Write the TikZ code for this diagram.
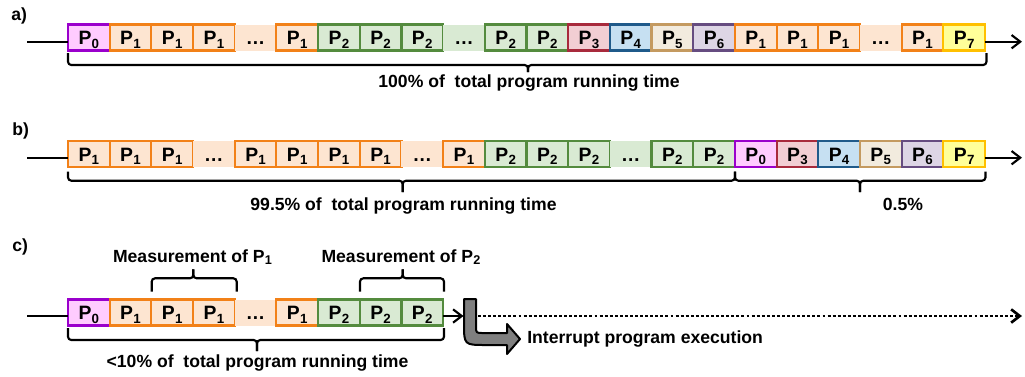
\documentclass[tikz,border=0pt]{standalone}
\usepackage{fontspec}
\setmainfont{Liberation Sans}
\usetikzlibrary{arrows.meta}

% phase colours: border (d) and fill (f)
\definecolor{p0d}{HTML}{9A00CC}\definecolor{p0f}{HTML}{FFCCFF}
\definecolor{p1d}{HTML}{F28118}\definecolor{p1f}{HTML}{FDE5D1}
\definecolor{p2d}{HTML}{548B3E}\definecolor{p2f}{HTML}{D9EAD3}
\definecolor{p3d}{HTML}{A82A3C}\definecolor{p3f}{HTML}{F2CED3}
\definecolor{p4d}{HTML}{1F5A8A}\definecolor{p4f}{HTML}{C6E0F2}
\definecolor{p5d}{HTML}{C49A60}\definecolor{p5f}{HTML}{F2EBDE}
\definecolor{p6d}{HTML}{664C80}\definecolor{p6f}{HTML}{DDD5E5}
\definecolor{p7d}{HTML}{FFC000}\definecolor{p7f}{HTML}{FFFF99}
\definecolor{interruptgray}{HTML}{7F7F7F}

\newcommand\lblfont{\fontsize{14.5}{16}\selectfont\bfseries}
\newcommand\txtfont{\fontsize{13.2}{15}\selectfont\bfseries}
\newcommand\Psub[1]{P\kern0.2pt\raisebox{-2.3pt}{\fontsize{10}{10}\selectfont #1}}
\newcommand\Ptxt[1]{P\kern0.2pt\raisebox{-2pt}{\fontsize{9.5}{10}\selectfont #1}}
\newcommand\colx[1]{68+41.68*(#1+0.5)}

\begin{document}
\begin{tikzpicture}[x=0.75pt,y=-0.75pt,
  cell/.style={draw, line width=1.6pt, minimum width=31.26pt, minimum height=19.5pt,
    inner sep=0pt, outer sep=0pt, text height=12pt, text depth=0.8pt, font=\lblfont},
  boxP0/.style={cell, draw=p0d, fill=p0f},
  boxP1/.style={cell, draw=p1d, fill=p1f},
  boxP2/.style={cell, draw=p2d, fill=p2f},
  boxP3/.style={cell, draw=p3d, fill=p3f},
  boxP4/.style={cell, draw=p4d, fill=p4f},
  boxP5/.style={cell, draw=p5d, fill=p5f},
  boxP6/.style={cell, draw=p6d, fill=p6f},
  boxP7/.style={cell, draw=p7d, fill=p7f},
  gapP1/.style={cell, draw=none, fill=p1f},
  gapP2/.style={cell, draw=none, fill=p2f},
  flowline/.style={line width=1.6pt},
  tipped/.style={-{Straight Barb[length=6.5pt,width=10pt]}},
  dotline/.style={dash pattern=on 2.2pt off 1.6pt},
  brace/.style={line width=1.6pt, rounded corners=2.5pt},
  caption/.style={font=\txtfont, inner sep=0pt, anchor=base},
  rowtag/.style={font=\txtfont, inner sep=0pt, anchor=base west}
]
\fill[white] (0,0) rectangle (1025,376);
\useasboundingbox (0,0) rectangle (1025,376);

% ---------------- a) ----------------
\node[rowtag] (taga) at (11,20) {a)};
\coordinate (a-start) at (27,41.7);
\coordinate (a-end) at (1022,41.7);
\node[boxP0] (a0)  at ({\colx{0}},37.5)  {\Psub{0}};
\node[boxP1] (a1)  at ({\colx{1}},37.5)  {\Psub{1}};
\node[boxP1] (a2)  at ({\colx{2}},37.5)  {\Psub{1}};
\node[boxP1] (a3)  at ({\colx{3}},37.5)  {\Psub{1}};
\node[gapP1] (a4)  at ({\colx{4}},37.5)  {…};
\node[boxP1] (a5)  at ({\colx{5}},37.5)  {\Psub{1}};
\node[boxP2] (a6)  at ({\colx{6}},37.5)  {\Psub{2}};
\node[boxP2] (a7)  at ({\colx{7}},37.5)  {\Psub{2}};
\node[boxP2] (a8)  at ({\colx{8}},37.5)  {\Psub{2}};
\node[gapP2] (a9)  at ({\colx{9}},37.5)  {…};
\node[boxP2] (a10) at ({\colx{10}},37.5) {\Psub{2}};
\node[boxP2] (a11) at ({\colx{11}},37.5) {\Psub{2}};
\node[boxP3] (a12) at ({\colx{12}},37.5) {\Psub{3}};
\node[boxP4] (a13) at ({\colx{13}},37.5) {\Psub{4}};
\node[boxP5] (a14) at ({\colx{14}},37.5) {\Psub{5}};
\node[boxP6] (a15) at ({\colx{15}},37.5) {\Psub{6}};
\node[boxP1] (a16) at ({\colx{16}},37.5) {\Psub{1}};
\node[boxP1] (a17) at ({\colx{17}},37.5) {\Psub{1}};
\node[boxP1] (a18) at ({\colx{18}},37.5) {\Psub{1}};
\node[gapP1] (a19) at ({\colx{19}},37.5) {…};
\node[boxP1] (a20) at ({\colx{20}},37.5) {\Psub{1}};
\node[boxP7] (a21) at ({\colx{21}},37.5) {\Psub{7}};
\draw[flowline] (a-start) -- (a-start -| a0.west);
\draw[flowline, tipped] (a-end -| a21.east) -- (a-end);
\draw[brace] (68,53) |- (528,65) -- (528,72);
\draw[brace] (528,72) -- (528,65) -| (986.5,53);
\node[caption] (capa) at (529,87) {100\% of\ \ total program running time};

% ---------------- b) ----------------
\node[rowtag] (tagb) at (12,135) {b)};
\coordinate (b-start) at (27,157.7);
\coordinate (b-end) at (1022,157.7);
\node[boxP1] (b0)  at ({\colx{0}},154)  {\Psub{1}};
\node[boxP1] (b1)  at ({\colx{1}},154)  {\Psub{1}};
\node[boxP1] (b2)  at ({\colx{2}},154)  {\Psub{1}};
\node[gapP1] (b3)  at ({\colx{3}},154)  {…};
\node[boxP1] (b4)  at ({\colx{4}},154)  {\Psub{1}};
\node[boxP1] (b5)  at ({\colx{5}},154)  {\Psub{1}};
\node[boxP1] (b6)  at ({\colx{6}},154)  {\Psub{1}};
\node[boxP1] (b7)  at ({\colx{7}},154)  {\Psub{1}};
\node[gapP1] (b8)  at ({\colx{8}},154)  {…};
\node[boxP1] (b9)  at ({\colx{9}},154)  {\Psub{1}};
\node[boxP2] (b10) at ({\colx{10}},154) {\Psub{2}};
\node[boxP2] (b11) at ({\colx{11}},154) {\Psub{2}};
\node[boxP2] (b12) at ({\colx{12}},154) {\Psub{2}};
\node[gapP2] (b13) at ({\colx{13}},154) {…};
\node[boxP2] (b14) at ({\colx{14}},154) {\Psub{2}};
\node[boxP2] (b15) at ({\colx{15}},154) {\Psub{2}};
\node[boxP0] (b16) at ({\colx{16}},154) {\Psub{0}};
\node[boxP3] (b17) at ({\colx{17}},154) {\Psub{3}};
\node[boxP4] (b18) at ({\colx{18}},154) {\Psub{4}};
\node[boxP5] (b19) at ({\colx{19}},154) {\Psub{5}};
\node[boxP6] (b20) at ({\colx{20}},154) {\Psub{6}};
\node[boxP7] (b21) at ({\colx{21}},154) {\Psub{7}};
\draw[flowline] (b-start) -- (b-start -| b0.west);
\draw[flowline, tipped] (b-end -| b21.east) -- (b-end);
\draw[brace] (68,171.7) |- (402.7,180.7) -- (402.7,192);
\draw[brace] (402.7,192) -- (402.7,180.7) -| (735,171.7);
\draw[brace] (735,171.7) |- (860,180.7) -- (860,192);
\draw[brace] (860,192) -- (860,180.7) -| (985.5,171.7);
\node[caption] (capb1) at (403.5,210) {99.5\% of\ \ total program running time};
\node[caption] (capb2) at (903,210) {0.5\%};

% ---------------- c) ----------------
\node[rowtag] (tagc) at (12,251.7) {c)};
\coordinate (c-start) at (27,316);
\coordinate (c-hit) at (463.5,316);
\coordinate (c-resume) at (478,316);
\coordinate (c-end) at (1022,316);
\node[boxP0] (c0) at ({\colx{0}},312.5) {\Psub{0}};
\node[boxP1] (c1) at ({\colx{1}},312.5) {\Psub{1}};
\node[boxP1] (c2) at ({\colx{2}},312.5) {\Psub{1}};
\node[boxP1] (c3) at ({\colx{3}},312.5) {\Psub{1}};
\node[gapP1] (c4) at ({\colx{4}},312.5) {…};
\node[boxP1] (c5) at ({\colx{5}},312.5) {\Psub{1}};
\node[boxP2] (c6) at ({\colx{6}},312.5) {\Psub{2}};
\node[boxP2] (c7) at ({\colx{7}},312.5) {\Psub{2}};
\node[boxP2] (c8) at ({\colx{8}},312.5) {\Psub{2}};
\draw[flowline] (c-start) -- (c-start -| c0.west);
\draw[flowline, tipped] (c-start -| c8.east) -- (c-hit);
\draw[line width=2pt, dotline, tipped] (c-resume) -- (c-end);

% measurement windows
\draw[brace] (151.7,291.7) |- (193.3,278.3) -- (193.3,269.3);
\draw[brace] (193.3,269.3) -- (193.3,278.3) -| (236.7,291.7);
\draw[brace] (360,291.7) |- (402.7,278.3) -- (402.7,269.3);
\draw[brace] (402.7,269.3) -- (402.7,278.3) -| (444,291.7);
\node[caption] (m1) at (192.5,262) {Measurement of \Ptxt{1}};
\node[caption] (m2) at (401,262) {Measurement of \Ptxt{2}};

% overall span
\draw[brace] (68,328) |- (257,340) -- (257,351);
\draw[brace] (257,351) -- (257,340) -| (444,328);
\node[caption] (capc) at (257.5,367) {<10\% of\ \ total program running time};

% bent interrupt arrow
\draw[line width=1.5pt, fill=interruptgray, line join=round]
  (464,299) -- (476,299) -- (476,326) .. controls (476,333) .. (483,333)
  -- (507,333) -- (507,324) -- (520,339) -- (507,354) -- (507,345)
  -- (486,345) .. controls (464,345) .. (464,323) -- cycle;
\node[caption, anchor=base west] (intr) at (527,343) {Interrupt program execution};
\end{tikzpicture}
\end{document}
